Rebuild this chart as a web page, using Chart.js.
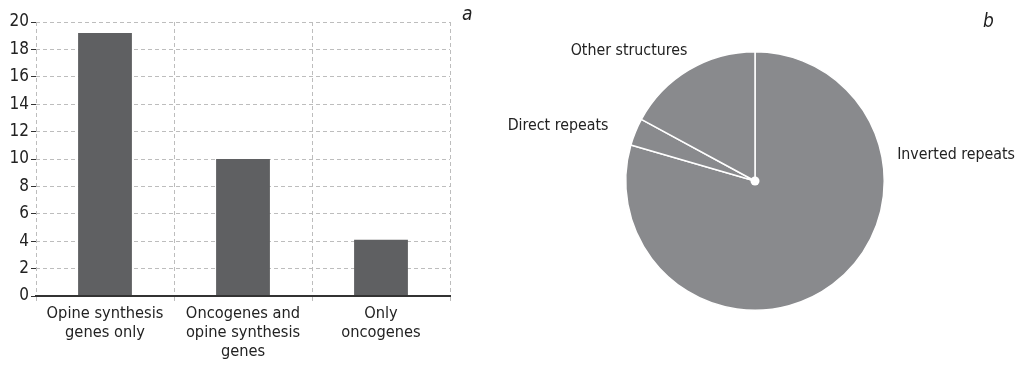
<!DOCTYPE html>
<html><head><meta charset="utf-8">
<script src="https://cdn.jsdelivr.net/npm/chart.js@4"></script>
<style>
html,body{margin:0;padding:0;background:#fff;width:1024px;height:365px;overflow:hidden;}
#wrap{position:relative;width:1024px;height:365px;}
#barBox{position:absolute;left:0;top:0;width:480px;height:365px;}
#pieBox{position:absolute;left:480px;top:0;width:544px;height:365px;}
.tag{position:absolute;font-family:'DejaVu Sans Condensed',sans-serif;font-style:italic;font-size:19px;color:#222;line-height:1;}
</style></head>
<body>
<div id="wrap">
  <div id="barBox"><canvas id="bar"></canvas></div>
  <div id="pieBox"><canvas id="pie"></canvas></div>
  <div class="tag" style="left:462px;top:4px;">a</div>
  <div class="tag" style="left:983px;top:11px;">b</div>
</div>
<script>
const barCategories = [["Opine synthesis","genes only"],["Oncogenes and","opine synthesis","genes"],["Only","oncogenes"]];
const barValues = [19.2, 10.0, 4.1];
const yTicks = {min:0, max:20, step:2};

const pieLabels = ["Inverted repeats","Direct repeats","Other structures"];
const pieValues = [79.5, 3.4, 17.1];
// label anchor offsets from the pie centre (px)
const pieLabelOffsets = [[201,-26],[-197,-55],[-126,-130]];

const FONT = "'DejaVu Sans Condensed','Liberation Sans Narrow',sans-serif";
const TXT = '#222';
const GRID = '#bdbdbd';

new Chart(document.getElementById('bar'), {
  type:'bar',
  data:{labels:barCategories, datasets:[{data:barValues, backgroundColor:'#5f6062', barPercentage:0.39, categoryPercentage:1}]},
  options:{
    responsive:true, maintainAspectRatio:false, animation:false,
    layout:{padding:{top:22,right:30,left:0,bottom:0}},
    plugins:{legend:{display:false}, tooltip:{enabled:false}},
    scales:{
      x:{
        grid:{color:GRID, lineWidth:1, tickLength:5, tickColor:GRID, offset:true, tickBorderDash:[4,3]},
        border:{display:true, color:'#333', width:2, dash:[4,3], z:1},
        ticks:{font:{family:FONT,size:16.3,lineHeight:1.18}, color:TXT, padding:3, maxRotation:0, autoSkip:false},
        afterFit:s=>{s.height=69;}
      },
      y:{
        min:yTicks.min, max:yTicks.max,
        ticks:{stepSize:yTicks.step, font:{family:FONT,size:17}, color:TXT, padding:2},
        grid:{color:GRID, lineWidth:1, tickColor:'#333', tickLength:5, tickBorderDash:[]},
        border:{display:false, dash:[4,3]},
        afterFit:s=>{s.width=36;}
      }
    }
  }
});

const pieDecor = {
  id:'pieDecor',
  afterDatasetsDraw(chart){
    const arc = chart.getDatasetMeta(0).data[0];
    const cx = arc.x, cy = arc.y;
    const ctx = chart.ctx;
    ctx.save();
    ctx.fillStyle = '#fff';
    ctx.beginPath(); ctx.arc(cx, cy, 4.5, 0, Math.PI*2); ctx.fill();
    ctx.fillStyle = TXT;
    ctx.font = "15.8px " + FONT;
    ctx.textAlign = 'center'; ctx.textBaseline = 'middle';
    chart.data.labels.forEach((l,i)=>{
      const o = pieLabelOffsets[i];
      ctx.fillText(l, cx + o[0], cy + o[1]);
    });
    ctx.restore();
  }
};

new Chart(document.getElementById('pie'), {
  type:'pie',
  data:{labels:pieLabels, datasets:[{data:pieValues, backgroundColor:'#898a8d', borderColor:'#fff', borderWidth:1.5}]},
  options:{
    responsive:true, maintainAspectRatio:false, animation:false,
    layout:{padding:{left:145,right:139,top:51,bottom:54}},
    plugins:{legend:{display:false}, tooltip:{enabled:false}}
  },
  plugins:[pieDecor]
});
</script>
</body></html>
